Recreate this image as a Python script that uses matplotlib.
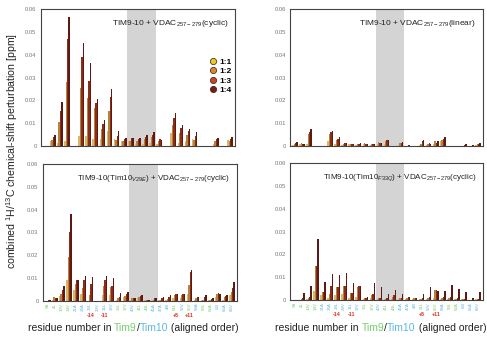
import numpy as np
import matplotlib.pyplot as plt
from matplotlib.lines import Line2D

plt.rcParams['font.family'] = ['Liberation Sans', 'DejaVu Sans']
plt.rcParams['mathtext.fontset'] = 'custom'
plt.rcParams['mathtext.rm'] = 'Liberation Sans'
plt.rcParams['mathtext.it'] = 'Liberation Sans:italic'

# residue labels in aligned order (Tim9 = green, Tim10 = blue)
residues = ['5A', '4L', '10V', '14V', '21A', '24A', '28L', '29V', '31L', '32V',
            '36L', '37V', '40V', '41L', '44L', '45A', '47A', '48I', '51L', '52V',
            '55V', '58A', '59L', '62A', '63I', '65A', '66V']
protein = ['T9', 'T9', 'T9', 'T9', 'T10', 'T10', 'T10', 'T10', 'T10', 'T10',
           'T9', 'T9', 'T10', 'T9', 'T9', 'T10', 'T10', 'T10', 'T9', 'T10',
           'T9', 'T10', 'T9', 'T9', 'T10', 'T10', 'T10']
mark_idx = [6, 8, 18, 20]
mark_txt = ['-14', '-11', '+5', '+11']
ratios = ['1:1', '1:2', '1:3', '1:4']

# CSP per residue, columns = 1:1, 1:2, 1:3, 1:4
cyclic = [
    [0, 0, 0, 0],
    [0.002, 0.0025, 0.004, 0.005],
    [0.0015, 0.0105, 0.0155, 0.0195],
    [0.002, 0.028, 0.047, 0.0565],
    [0, 0, 0, 0],
    [0.0045, 0.0255, 0.039, 0.045],
    [0.0045, 0.021, 0.0285, 0.0365],
    [0.003, 0.0165, 0.019, 0.0205],
    [0.003, 0.0075, 0.0095, 0.0113],
    [0.0065, 0.0155, 0.0215, 0.025],
    [0.003, 0.0025, 0.0045, 0.0065],
    [0.002, 0.002, 0.003, 0.0035],
    [0.002, 0.002, 0.0035, 0.0035],
    [0.001, 0.002, 0.003, 0.0035],
    [0.001, 0.003, 0.004, 0.005],
    [0.0015, 0.004, 0.005, 0.006],
    [0.001, 0.002, 0.003, 0.0025],
    [0, 0, 0, 0],
    [0.0058, 0.009, 0.0125, 0.0145],
    [0.0015, 0.0055, 0.008, 0.009],
    [0.002, 0.005, 0.0065, 0.0075],
    [0.003, 0.0025, 0.0045, 0.0063],
    [0, 0, 0, 0],
    [0, 0, 0, 0],
    [0.001, 0.002, 0.003, 0.0035],
    [0, 0, 0, 0],
    [0.0025, 0.002, 0.003, 0.0038],
]
linear = [
    [0.0005, 0.0008, 0.0012, 0.0018],
    [0.001, 0.0012, 0.001, 0.001],
    [0.001, 0.0053, 0.006, 0.0075],
    [0, 0, 0, 0],
    [0, 0, 0, 0],
    [0.002, 0.0053, 0.006, 0.0068],
    [0.001, 0.0025, 0.003, 0.004],
    [0.0005, 0.001, 0.0012, 0.0013],
    [0.0008, 0.001, 0.001, 0.001],
    [0.0005, 0.001, 0.001, 0.0012],
    [0.001, 0.0013, 0.001, 0.0007],
    [0.0005, 0.001, 0.001, 0.001],
    [0.001, 0.0018, 0.0015, 0.0015],
    [0.001, 0.002, 0.0025, 0.0028],
    [0, 0, 0, 0],
    [0.0005, 0.0015, 0.0015, 0.0018],
    [0, 0, 0.0003, 0.0005],
    [0, 0, 0, 0],
    [0.0005, 0.0008, 0.002, 0.0025],
    [0.0005, 0.0008, 0.0013, 0.001],
    [0.001, 0.002, 0.0015, 0.002],
    [0.002, 0.0025, 0.003, 0.0038],
    [0, 0, 0, 0],
    [0, 0, 0, 0],
    [0, 0, 0.0005, 0.0007],
    [0, 0, 0, 0.0005],
    [0.0005, 0.0008, 0.001, 0.0015],
]
v29e = [
    [0, 0, 0.0002, 0.0003],
    [0.0005, 0.0015, 0.0013, 0.001],
    [0.002, 0.003, 0.0045, 0.0065],
    [0.009, 0.019, 0.030, 0.038],
    [0.0045, 0.0075, 0.009, 0.009],
    [0.003, 0.0055, 0.009, 0.011],
    [0, 0.0025, 0.0075, 0.0105],
    [0, 0, 0, 0],
    [0.0025, 0.0065, 0.009, 0.0108],
    [0.0025, 0.006, 0.0065, 0.0098],
    [0.0005, 0.001, 0.0015, 0.0032],
    [0.0015, 0.002, 0.003, 0.0038],
    [0.0005, 0.001, 0.001, 0.001],
    [0.001, 0.0015, 0.0022, 0.0025],
    [0.0003, 0.0005, 0.0005, 0.0005],
    [0.0005, 0.0005, 0.001, 0.0012],
    [0.0003, 0.0005, 0.001, 0.0015],
    [0.0003, 0.0008, 0.0015, 0.0025],
    [0.001, 0.0025, 0.0028, 0.003],
    [0.001, 0.0025, 0.0028, 0.003],
    [0.003, 0.007, 0.0125, 0.0135],
    [0.0005, 0.001, 0.0015, 0.0017],
    [0.0003, 0.0005, 0.0015, 0.0025],
    [0.0003, 0.0005, 0.0008, 0.001],
    [0.0015, 0.003, 0.0033, 0.003],
    [0.0005, 0.0015, 0.002, 0.0025],
    [0.0025, 0.004, 0.0055, 0.008],
]
f33q = [
    [0, 0, 0, 0],
    [0, 0.0003, 0.001, 0.003],
    [0.0005, 0.001, 0.0015, 0.0062],
    [0.004, 0.015, 0.015, 0.0268],
    [0.002, 0.0035, 0.0035, 0.0077],
    [0.001, 0.0025, 0.006, 0.0115],
    [0.002, 0.0055, 0.0055, 0.0111],
    [0.0025, 0.006, 0.006, 0.0118],
    [0.001, 0.003, 0.003, 0.0075],
    [0.0015, 0.0055, 0.006, 0.0063],
    [0.0005, 0.001, 0.001, 0.0015],
    [0.001, 0.002, 0.0025, 0.0073],
    [0.0005, 0.001, 0.001, 0.0055],
    [0.0003, 0.0005, 0.001, 0.0027],
    [0.0005, 0.0015, 0.002, 0.0045],
    [0.0003, 0.0008, 0.001, 0.0027],
    [0.0003, 0.001, 0.0015, 0.0012],
    [0.0003, 0.0008, 0.001, 0.001],
    [0.0003, 0.0005, 0.0008, 0.0027],
    [0.0005, 0.001, 0.0015, 0.0055],
    [0.001, 0.0045, 0.0045, 0.004],
    [0.0005, 0.001, 0.0015, 0.004],
    [0.0005, 0.001, 0.0015, 0.0065],
    [0.0003, 0.0005, 0.001, 0.005],
    [0.0003, 0.0005, 0.0005, 0.0037],
    [0, 0, 0, 0.001],
    [0.0003, 0.0003, 0.0005, 0.0035],
]

bar_colors = ['#d8b866', '#b5843c', '#8e2c18', '#5e1a12']
dot_colors = ['#f5c518', '#e0852a', '#c9461e', '#7b1c12']
tim9_col = '#72cf6e'
tim10_col = '#5ab8e6'

fig = plt.figure(figsize=(4.87, 3.39), dpi=100)
boxes = [[0.0836, 0.5693, 0.399, 0.4033],
         [0.5955, 0.5693, 0.396, 0.4033],
         [0.0877, 0.1130, 0.399, 0.4033],
         [0.5955, 0.1150, 0.396, 0.4033]]
titles = [r'TIM9-10 + VDAC$_{\mathit{257-279}}$(cyclic)',
          r'TIM9-10 + VDAC$_{\mathit{257-279}}$(linear)',
          r'TIM9-10(Tim10$_{\mathit{V29E}}$) + VDAC$_{\mathit{257-279}}$(cyclic)',
          r'TIM9-10(Tim10$_{\mathit{F33Q}}$) + VDAC$_{\mathit{257-279}}$(cyclic)']
datasets = [cyclic, linear, v29e, f33q]

x = np.arange(len(residues))
w = 0.2
axes = []
for n in range(4):
    ax = fig.add_axes(boxes[n])
    d = np.array(datasets[n])
    ax.axvspan(11.5, 15.5, color='#d4d4d4', lw=0, zorder=0)
    for j in range(4):
        ax.bar(x + (j - 1.5) * w, d[:, j], width=w, color=bar_colors[j],
               lw=0, zorder=2)
    ax.set_xlim(-0.7, 26.7)
    ax.set_ylim(0, 0.06)
    ax.set_yticks([0, 0.01, 0.02, 0.03, 0.04, 0.05, 0.06])
    ax.set_yticklabels(['0', '0.01', '0.02', '0.03', '0.04', '0.05', '0.06'])
    ax.tick_params(axis='y', length=0, pad=3, labelsize=4.2, labelcolor='#777777')
    for s in ax.spines.values():
        s.set_color('#444444')
        s.set_linewidth(0.8)
    ax.text(0.965, 0.895, titles[n], transform=ax.transAxes, ha='right',
            va='center', fontsize=6.0 if n < 2 else 5.8, color='#222222')
    if n < 2:
        ax.set_xticks([])
    else:
        ax.set_xticks(x)
        ax.set_xticklabels(residues, rotation=90, fontsize=3.2)
        ax.tick_params(axis='x', length=0, pad=1.5)
        for lab, p in zip(ax.get_xticklabels(), protein):
            lab.set_color(tim9_col if p == 'T9' else tim10_col)
        for i, t in zip(mark_idx, mark_txt):
            ax.text(i, -0.108, t, transform=ax.get_xaxis_transform(),
                    ha='center', va='center', fontsize=3.8, color='#e8321e',
                    fontweight='bold')
    axes.append(ax)

handles = [Line2D([], [], marker='o', ls='', markersize=4.5,
                  markerfacecolor=c, markeredgecolor='#222222', markeredgewidth=0.5)
           for c in dot_colors]
leg = axes[0].legend(handles, ratios, loc='upper left', bbox_to_anchor=(0.87, 0.645),
                     frameon=False, fontsize=6, labelspacing=0.2, handlelength=0.8,
                     handletextpad=0.3, borderpad=0, borderaxespad=0)
for t in leg.get_texts():
    t.set_fontweight('bold')

fig.text(0.025, 0.555, r'combined $^{1}$H/$^{13}$C chemical-shift perturbation [ppm]',
         rotation=90, ha='center', va='center', fontsize=7.6, color='#222222')


def colored_label(x0, y0):
    pieces = [('residue number in ', '#222222'), ('Tim9', tim9_col),
              ('/', '#222222'), ('Tim10', tim10_col), (' (aligned order)', '#222222')]
    prev = fig.text(x0, y0, pieces[0][0], color=pieces[0][1], fontsize=7.5,
                    ha='left', va='bottom')
    for s, c in pieces[1:]:
        prev = axes[0].annotate(s, xy=(1, 0), xycoords=prev, ha='left', va='bottom',
                                color=c, fontsize=7.5, annotation_clip=False)


colored_label(0.057, 0.018)
colored_label(0.565, 0.018)

fig.savefig('out.png', dpi=100)
